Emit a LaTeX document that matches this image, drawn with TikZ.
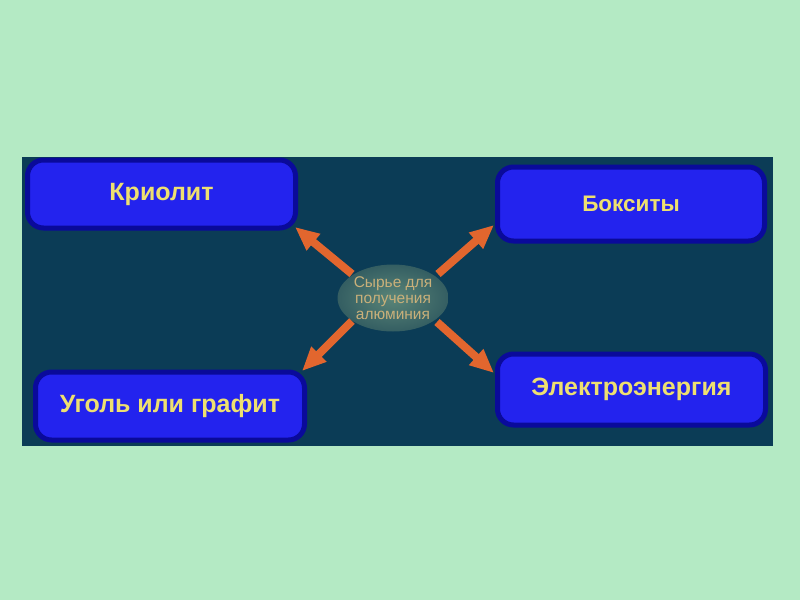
\documentclass[tikz,border=0pt]{standalone}
\usepackage{fontspec}
\setmainfont{Liberation Sans}
\usetikzlibrary{arrows.meta,shapes.geometric}
\definecolor{bgGreen}{HTML}{B4EAC4}
\definecolor{panel}{HTML}{0B3C56}
\definecolor{boxFill}{HTML}{2323EE}
\definecolor{boxEdge}{HTML}{0A0A9A}
\definecolor{txtYellow}{HTML}{EEE070}
\definecolor{arrowOr}{HTML}{E2662E}
\definecolor{centerTxt}{HTML}{C9B07A}
\definecolor{ellIn}{HTML}{5A8578}
\definecolor{ellOut}{HTML}{345E62}
\tikzset{
  bluebox/.style={rectangle, rounded corners=16pt, fill=boxFill, draw=boxEdge, line width=5pt,
    text=txtYellow, font=\fontsize{25}{28}\selectfont\bfseries, inner sep=0pt},
  orarrow/.style={-{Triangle[length=24pt,width=20pt]}, line width=8pt, draw=arrowOr},
}
\begin{document}
\begin{tikzpicture}[x=1pt,y=-1pt]
\useasboundingbox (0,0) rectangle (800,600);
\fill[bgGreen] (0,0) rectangle (800,600);
\fill[panel] (22,157) rectangle (773,446);

\node[bluebox, minimum width=268pt, minimum height=68pt] (kr) at (161.5,194) {Криолит};
\node[bluebox, minimum width=267pt, minimum height=74pt, font=\fontsize{22.5}{26}\selectfont\bfseries] (bx) at (631,204) {Бокситы};
\node[bluebox, minimum width=269pt, minimum height=68pt] (ug) at (170,406) {Уголь или графит};
\node[bluebox, minimum width=268pt, minimum height=71pt] (el) at (631.5,389.5) {Электроэнергия};

\node[ellipse, minimum width=100pt, minimum height=67pt, inner sep=0pt,
  inner color=ellIn, outer color=ellOut,
  text=centerTxt, font=\fontsize{15.5}{16}\selectfont, align=center] (c) at (393,298)
  {Сырье для\\получения\\алюминия};

\coordinate (t1) at (295,227);
\coordinate (t2) at (494,225);
\coordinate (t3) at (302,371);
\coordinate (t4) at (494,373);
\coordinate (s1) at (352,274);
\coordinate (s2) at (438,274);
\coordinate (s3) at (352,321);
\coordinate (s4) at (437,322);
\draw[orarrow] (s1) -- (t1);
\draw[orarrow] (s2) -- (t2);
\draw[orarrow] (s3) -- (t3);
\draw[orarrow] (s4) -- (t4);
\end{tikzpicture}
\end{document}
